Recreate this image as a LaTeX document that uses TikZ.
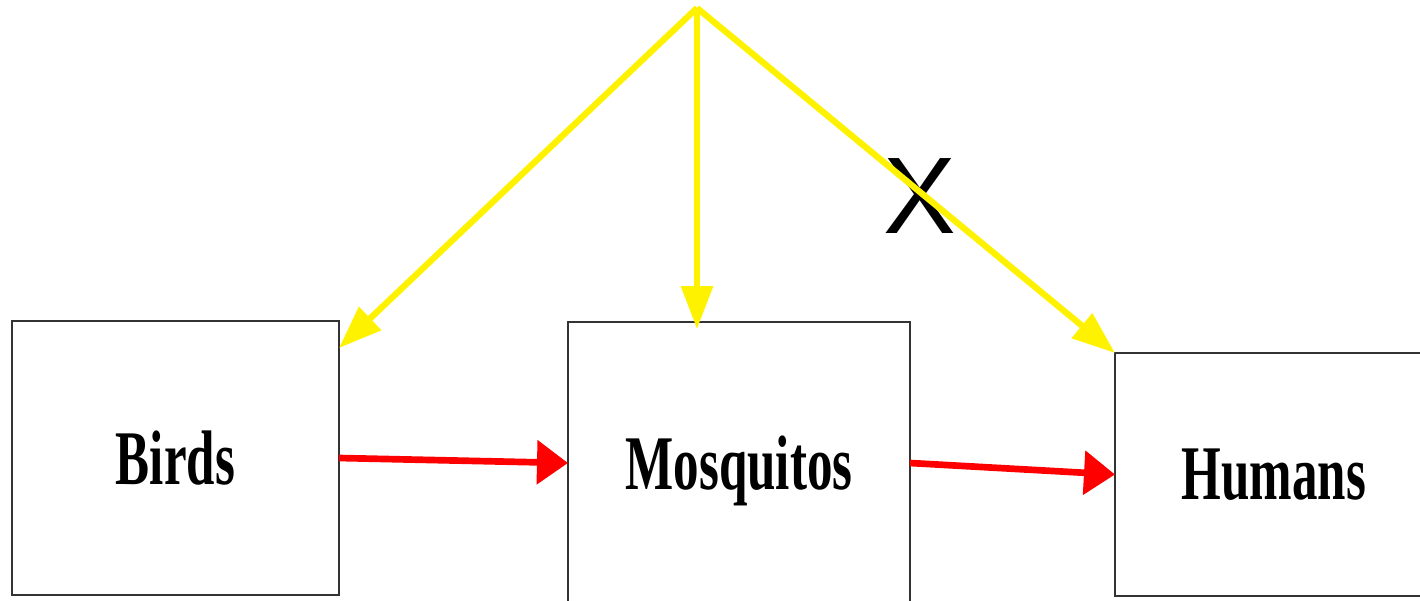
\documentclass[tikz,border=0pt]{standalone}
\usepackage{fontspec}
\usepackage{xcolor}
\usepackage{tikz}
\usetikzlibrary{arrows.meta,calc,positioning}

\newfontfamily\boxfont[FakeStretch=0.66]{Liberation Serif}
\newfontfamily\markfont{Liberation Sans}

\tikzset{
  box/.style={draw=black!80, line width=0.5pt, inner sep=0pt, outer sep=0pt,
    text depth=0pt, font=\boxfont\bfseries\fontsize{22}{24}\selectfont},
  feed/.style={yellow, line width=1.8pt, -{Triangle[length=4.3mm,width=3.1mm]}},
  pass/.style={red, line width=1.9pt, -{Triangle[length=3.1mm,width=4.3mm]}},
}

\begin{document}
\begin{tikzpicture}

  \useasboundingbox (0,0) rectangle (14.2,6);
  \clip (0,0) rectangle (14.2,6);

  \node[box, minimum width=3.27cm, minimum height=2.74cm] (birds) at (1.755,1.42) {Birds};
  \node[box, minimum width=3.42cm, minimum height=2.82cm,
        right=2.29cm of birds, yshift=-0.5mm] (mosq) {Mosquitos};
  \node[box, minimum width=3.18cm, minimum height=2.43cm,
        right=2.05cm of mosq, yshift=-1.15mm] (humans) {Humans};

  \coordinate (src) at (6.97,5.92);
  \node[font=\markfont\fontsize{31}{34}\selectfont, inner sep=0pt] (cross) at (9.2,4.04) {X};

  \draw[feed] (src) -- ($(birds.north east)+(0,-0.27)$);
  \draw[feed] (src) -- ($(src |- mosq.north)+(0,-0.07)$);
  \draw[feed] (src) -- (humans.north west);

  \draw[pass] (birds.east) -- (mosq.west);
  \draw[pass] (mosq.east) -- (humans.west);

\end{tikzpicture}
\end{document}
